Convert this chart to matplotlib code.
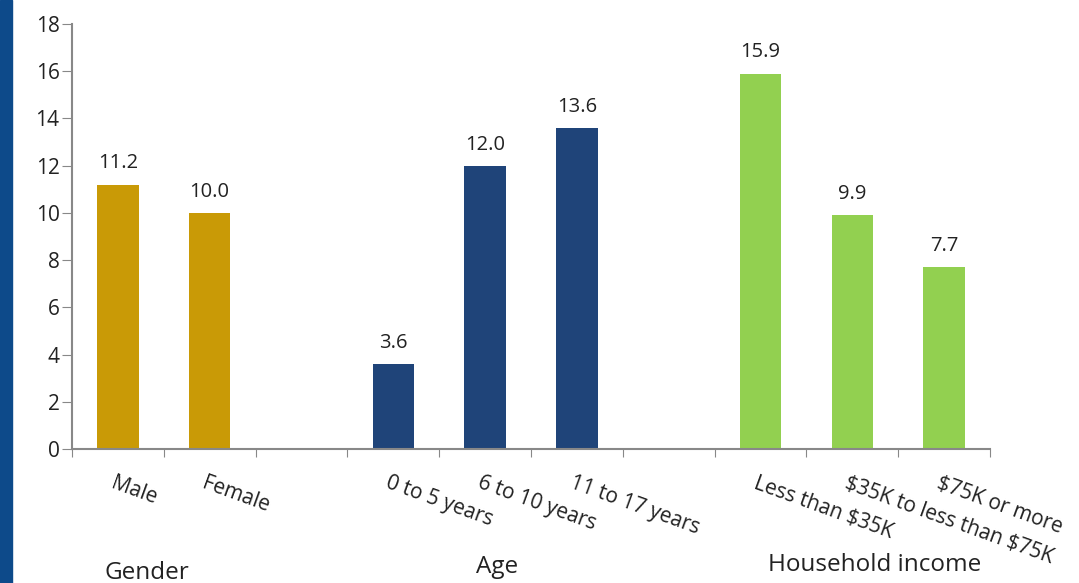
import matplotlib.pyplot as plt
from matplotlib.patches import Rectangle

plt.rcParams['font.family'] = ['Open Sans', 'DejaVu Sans']
plt.rcParams['text.parse_math'] = False

# data
labels = ['Male', 'Female', '', '0 to 5 years', '6 to 10 years', '11 to 17 years', '',
          'Less than $35K', '$35K to less than $75K', '$75K or more']
values = [11.2, 10.0, None, 3.6, 12.0, 13.6, None, 15.9, 9.9, 7.7]
groups = ['Gender', 'Gender', None, 'Age', 'Age', 'Age', None, 'Income', 'Income', 'Income']
group_names = ['Gender', 'Age', 'Household income']
colours = {'Gender': '#c99a06', 'Age': '#1f4479', 'Income': '#92d050'}

fig = plt.figure(figsize=(10.79, 5.83), dpi=100)
fig.patches.append(Rectangle((0, 0), 0.011, 1, transform=fig.transFigure,
                             color='#0d4a8a', zorder=0))
ax = fig.add_axes([0.0667, 0.2298, 0.8508, 0.729])

for i, (v, g) in enumerate(zip(values, groups)):
    if v is None:
        continue
    ax.bar(i, v, width=0.45, color=colours[g])
    ax.annotate('{:.1f}'.format(v), (i, v), xytext=(0, 8), textcoords='offset points',
                ha='center', va='bottom', fontsize=14.5, color='#222222')

ax.set_xlim(-0.5, len(labels) - 0.5)
ax.set_ylim(0, 18)
ax.set_yticks(range(0, 19, 2))
ax.tick_params(axis='y', labelsize=15, length=7, color='#888888', labelcolor='#222222', pad=2)
ax.set_xticks([i - 0.5 for i in range(len(labels) + 1)])
ax.set_xticklabels([])
ax.tick_params(axis='x', length=6, color='#888888')
for s in ['top', 'right']:
    ax.spines[s].set_visible(False)
for s in ['left', 'bottom']:
    ax.spines[s].set_color('#888888')
    ax.spines[s].set_linewidth(1.5)

for i, lab in enumerate(labels):
    if lab:
        ax.annotate(lab, (i, 0), xytext=(-2, -17), textcoords='offset points',
                    ha='left', va='top', rotation=-20, rotation_mode='anchor',
                    fontsize=15, color='#222222')

fig.text(147 / 1079, 1 - 573 / 583, group_names[0], ha='center', va='center',
         fontsize=17.5, color='#222222')
fig.text(497 / 1079, 1 - 567 / 583, group_names[1], ha='center', va='center',
         fontsize=17.5, color='#222222')
fig.text(875 / 1079, 1 - 565 / 583, group_names[2], ha='center', va='center',
         fontsize=17.5, color='#222222')

fig.savefig('out.png', dpi=100)
